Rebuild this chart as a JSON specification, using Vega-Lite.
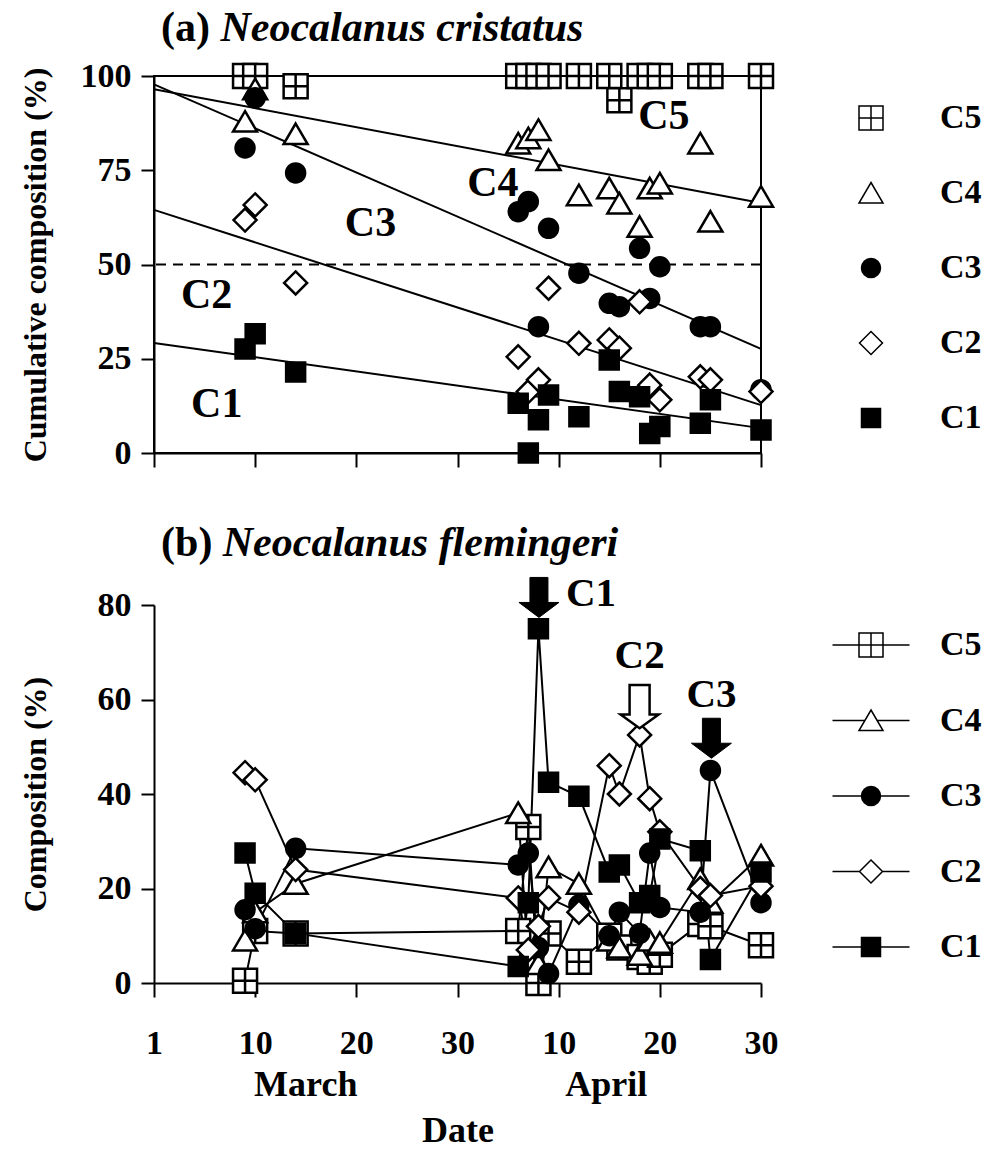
{
"$schema": "https://vega.github.io/schema/vega-lite/v6.json",
"padding": {"left": 18, "top": 6, "right": 0, "bottom": 0},
"background": "white",
"bounds": "flush",
"spacing": 152,
"resolve": {"scale": {"shape": "independent", "fill": "independent"}, "legend": {"shape": "independent", "fill": "independent"}},
"datasets": {
"a": [
{"stage":"C5","day":9,"pct":100},{"stage":"C5","day":10,"pct":100},{"stage":"C5","day":14,"pct":97.3},{"stage":"C5","day":36,"pct":100},{"stage":"C5","day":37,"pct":100},{"stage":"C5","day":38,"pct":100},{"stage":"C5","day":39,"pct":100},{"stage":"C5","day":42,"pct":100},{"stage":"C5","day":45,"pct":100},{"stage":"C5","day":46,"pct":93.6},{"stage":"C5","day":48,"pct":100},{"stage":"C5","day":49,"pct":100},{"stage":"C5","day":50,"pct":100},{"stage":"C5","day":54,"pct":100},{"stage":"C5","day":55,"pct":100},{"stage":"C5","day":60,"pct":100},
{"stage":"C4","day":9,"pct":87.9},{"stage":"C4","day":10,"pct":96.5},{"stage":"C4","day":14,"pct":84.6},{"stage":"C4","day":36,"pct":82.1},{"stage":"C4","day":37,"pct":83.5},{"stage":"C4","day":38,"pct":85.7},{"stage":"C4","day":39,"pct":77.7},{"stage":"C4","day":42,"pct":68.4},{"stage":"C4","day":45,"pct":70.2},{"stage":"C4","day":46,"pct":66.2},{"stage":"C4","day":48,"pct":60.0},{"stage":"C4","day":49,"pct":70.2},{"stage":"C4","day":50,"pct":71.5},{"stage":"C4","day":54,"pct":82.1},{"stage":"C4","day":55,"pct":61.4},{"stage":"C4","day":60,"pct":68.0},
{"stage":"C3","day":9,"pct":80.9},{"stage":"C3","day":10,"pct":94.2},{"stage":"C3","day":14,"pct":74.3},{"stage":"C3","day":36,"pct":64.0},{"stage":"C3","day":37,"pct":66.7},{"stage":"C3","day":38,"pct":33.5},{"stage":"C3","day":39,"pct":59.6},{"stage":"C3","day":42,"pct":47.7},{"stage":"C3","day":45,"pct":39.7},{"stage":"C3","day":46,"pct":38.8},{"stage":"C3","day":48,"pct":54.3},{"stage":"C3","day":49,"pct":41.0},{"stage":"C3","day":50,"pct":49.4},{"stage":"C3","day":54,"pct":33.5},{"stage":"C3","day":55,"pct":33.5},{"stage":"C3","day":60,"pct":16.8},
{"stage":"C2","day":9,"pct":61.8},{"stage":"C2","day":10,"pct":65.8},{"stage":"C2","day":14,"pct":45.1},{"stage":"C2","day":36,"pct":25.5},{"stage":"C2","day":37,"pct":16.3},{"stage":"C2","day":38,"pct":19.4},{"stage":"C2","day":39,"pct":43.7},{"stage":"C2","day":42,"pct":29.1},{"stage":"C2","day":45,"pct":30.0},{"stage":"C2","day":46,"pct":27.8},{"stage":"C2","day":48,"pct":40.1},{"stage":"C2","day":49,"pct":18.0},{"stage":"C2","day":50,"pct":14.1},{"stage":"C2","day":54,"pct":20.2},{"stage":"C2","day":55,"pct":19.4},{"stage":"C2","day":60,"pct":16.3},
{"stage":"C1","day":9,"pct":27.6},{"stage":"C1","day":10,"pct":31.6},{"stage":"C1","day":14,"pct":21.5},{"stage":"C1","day":36,"pct":13.2},{"stage":"C1","day":37,"pct":0},{"stage":"C1","day":38,"pct":8.8},{"stage":"C1","day":39,"pct":15.4},{"stage":"C1","day":42,"pct":9.6},{"stage":"C1","day":45,"pct":24.7},{"stage":"C1","day":46,"pct":16.3},{"stage":"C1","day":48,"pct":14.9},{"stage":"C1","day":49,"pct":5.2},{"stage":"C1","day":50,"pct":7.0},{"stage":"C1","day":54,"pct":7.9},{"stage":"C1","day":55,"pct":14.1},{"stage":"C1","day":60,"pct":6.1}
],
"b": [
{"stage":"C5","day":9,"pct":0.5},{"stage":"C5","day":10,"pct":11},{"stage":"C5","day":14,"pct":10.5},{"stage":"C5","day":36,"pct":11},{"stage":"C5","day":37,"pct":33},{"stage":"C5","day":38,"pct":0},{"stage":"C5","day":39,"pct":10.5},{"stage":"C5","day":42,"pct":4.5},{"stage":"C5","day":45,"pct":10},{"stage":"C5","day":46,"pct":7.5},{"stage":"C5","day":48,"pct":5.5},{"stage":"C5","day":49,"pct":4.5},{"stage":"C5","day":50,"pct":6},{"stage":"C5","day":54,"pct":12.5},{"stage":"C5","day":55,"pct":12},{"stage":"C5","day":60,"pct":8},
{"stage":"C4","day":9,"pct":9},{"stage":"C4","day":10,"pct":15},{"stage":"C4","day":14,"pct":21},{"stage":"C4","day":36,"pct":36},{"stage":"C4","day":37,"pct":5},{"stage":"C4","day":38,"pct":4},{"stage":"C4","day":39,"pct":24.5},{"stage":"C4","day":42,"pct":21},{"stage":"C4","day":45,"pct":9},{"stage":"C4","day":46,"pct":7.5},{"stage":"C4","day":48,"pct":6},{"stage":"C4","day":49,"pct":9},{"stage":"C4","day":50,"pct":8.5},{"stage":"C4","day":54,"pct":22},{"stage":"C4","day":55,"pct":17},{"stage":"C4","day":60,"pct":27},
{"stage":"C3","day":9,"pct":15.5},{"stage":"C3","day":10,"pct":11.5},{"stage":"C3","day":14,"pct":28.5},{"stage":"C3","day":36,"pct":25},{"stage":"C3","day":37,"pct":27.5},{"stage":"C3","day":38,"pct":7.5},{"stage":"C3","day":39,"pct":2},{"stage":"C3","day":42,"pct":16.5},{"stage":"C3","day":45,"pct":10},{"stage":"C3","day":46,"pct":15},{"stage":"C3","day":48,"pct":10.5},{"stage":"C3","day":49,"pct":27.5},{"stage":"C3","day":50,"pct":16},{"stage":"C3","day":54,"pct":15},{"stage":"C3","day":55,"pct":45},{"stage":"C3","day":60,"pct":17},
{"stage":"C2","day":9,"pct":44.5},{"stage":"C2","day":10,"pct":43},{"stage":"C2","day":14,"pct":24},{"stage":"C2","day":36,"pct":18},{"stage":"C2","day":37,"pct":7},{"stage":"C2","day":38,"pct":12},{"stage":"C2","day":39,"pct":18},{"stage":"C2","day":42,"pct":15},{"stage":"C2","day":45,"pct":46},{"stage":"C2","day":46,"pct":40},{"stage":"C2","day":48,"pct":52.5},{"stage":"C2","day":49,"pct":39},{"stage":"C2","day":50,"pct":32},{"stage":"C2","day":54,"pct":20},{"stage":"C2","day":55,"pct":18.5},{"stage":"C2","day":60,"pct":20.5},
{"stage":"C1","day":9,"pct":27.5},{"stage":"C1","day":10,"pct":19},{"stage":"C1","day":14,"pct":10.5},{"stage":"C1","day":36,"pct":3.5},{"stage":"C1","day":37,"pct":17},{"stage":"C1","day":38,"pct":75},{"stage":"C1","day":39,"pct":42.5},{"stage":"C1","day":42,"pct":39.5},{"stage":"C1","day":45,"pct":23.5},{"stage":"C1","day":46,"pct":25},{"stage":"C1","day":48,"pct":17},{"stage":"C1","day":49,"pct":18.5},{"stage":"C1","day":50,"pct":30.5},{"stage":"C1","day":54,"pct":28},{"stage":"C1","day":55,"pct":5},{"stage":"C1","day":60,"pct":23.5}
],
"fitA": [
{"stage":"C4","day":0,"pct":96.5},{"stage":"C4","day":60,"pct":66.3},
{"stage":"C3","day":0,"pct":97.8},{"stage":"C3","day":60,"pct":27.6},
{"stage":"C2","day":0,"pct":64.5},{"stage":"C2","day":60,"pct":12.7},
{"stage":"C1","day":0,"pct":29.2},{"stage":"C1","day":60,"pct":6.6}
],
"labA": [{"label":"C5","day":50.4,"pct":89.5},{"label":"C4","day":33.5,"pct":71.5},{"label":"C3","day":21.4,"pct":61},{"label":"C2","day":5.2,"pct":41.8},{"label":"C1","day":6.2,"pct":13}],
"labB": [{"label":"C1","day":43.2,"pct":82.3},{"label":"C2","day":48,"pct":69.2},{"label":"C3","day":55.1,"pct":61}],
"arrowFilled": [{"stage":"C1","day":38.05,"pct":81.6},{"stage":"C3","day":55.1,"pct":51.8}],
"arrowOpen": [{"stage":"C2","day":48,"pct":58.5}],
"none": []
},
"vconcat": [
{
"width": 607, "height": 377,
"view": {"stroke": "black", "strokeWidth": 2},
"layer": [
{"data": {"name": "fitA"}, "mark": {"type": "line", "color": "black", "strokeWidth": 2},
 "encoding": {
  "x": {"field": "day", "type": "quantitative", "scale": {"domain": [0, 60], "nice": false, "zero": false}, "axis": {"values": [0,10,20,30,40,50,60], "labels": false, "title": null, "tickSize": 14}},
  "y": {"field": "pct", "type": "quantitative", "scale": {"domain": [0, 100], "nice": false}, "axis": {"values": [0,25,50,75,100], "title": "Cumulative composition (%)", "titlePadding": 28}},
  "detail": {"field": "stage", "type": "nominal"}}},
{"data": {"values": [{"pct": 50}]}, "mark": {"type": "rule", "color": "black", "strokeWidth": 2, "strokeDash": [10, 7]},
 "encoding": {"y": {"field": "pct", "type": "quantitative"}}},
{"data": {"name": "a"}, "mark": {"type": "point", "filled": true, "stroke": "black", "strokeWidth": 2.5, "opacity": 1, "size": 400},
 "encoding": {
  "x": {"field": "day", "type": "quantitative"},
  "y": {"field": "pct", "type": "quantitative"},
  "shape": {"field": "stage", "type": "nominal", "scale": {"domain": ["C5","C4","C3","C2","C1"], "range": ["M-1.2,-1.2L1.2,-1.2L1.2,1.2L-1.2,1.2ZM0,-1.2L0,1.2M-1.2,0L1.2,0", "M0,-1.05L1.2,1L-1.2,1Z", "M0.95,0A0.95,0.95,0,1,1,-0.95,0A0.95,0.95,0,1,1,0.95,0Z", "M0,-1.15L1.15,0L0,1.15L-1.15,0Z", "M-0.95,-0.95L0.95,-0.95L0.95,0.95L-0.95,0.95Z"]},
   "legend": {"title": null, "orient": "none", "legendX": 700, "legendY": 25, "padding": 0, "rowPadding": 41, "symbolSize": 400, "labelFont": "Liberation Serif", "labelFontSize": 34, "labelFontWeight": "bold", "labelColor": "black", "labelOffset": 52, "labelLimit": 300,
    "encode": {"symbols": {"update": {"fill": {"signal": "datum.value === 'C3' || datum.value === 'C1' ? 'black' : 'white'"}, "stroke": {"value": "black"}, "strokeWidth": {"value": 2.5}, "opacity": {"value": 1}}}}}},
  "fill": {"field": "stage", "type": "nominal", "scale": {"domain": ["C5","C4","C3","C2","C1"], "range": ["white","white","black","white","black"]}, "legend": null}}},
{"data": {"name": "labA"}, "mark": {"type": "text", "fontSize": 42, "fontWeight": "bold", "font": "Liberation Serif", "color": "black", "align": "center", "baseline": "middle"},
 "encoding": {"x": {"field": "day", "type": "quantitative"}, "y": {"field": "pct", "type": "quantitative"}, "text": {"field": "label"}}},
{"data": {"values": [{"t": "(a)", "day": 0.7, "pct": 112.7}]}, "mark": {"type": "text", "fontSize": 42, "fontWeight": "bold", "font": "Liberation Serif", "color": "black", "align": "left", "baseline": "middle"},
 "encoding": {"x": {"field": "day", "type": "quantitative"}, "y": {"field": "pct", "type": "quantitative"}, "text": {"field": "t"}}},
{"data": {"values": [{"t": "Neocalanus cristatus", "day": 6.57, "pct": 112.7}]}, "mark": {"type": "text", "fontSize": 42, "fontWeight": "bold", "fontStyle": "italic", "font": "Liberation Serif", "color": "black", "align": "left", "baseline": "middle"},
 "encoding": {"x": {"field": "day", "type": "quantitative"}, "y": {"field": "pct", "type": "quantitative"}, "text": {"field": "t"}}}
]
},
{
"width": 607, "height": 378,
"view": {"stroke": null},
"resolve": {"scale": {"shape": "independent", "fill": "independent"}, "legend": {"shape": "independent", "fill": "independent"}},
"layer": [
{"data": {"name": "b"}, "mark": {"type": "line", "color": "black", "strokeWidth": 2},
 "encoding": {
  "x": {"field": "day", "type": "quantitative", "scale": {"domain": [0, 60], "nice": false, "zero": false}, "axis": {"values": [0,10,20,30,40,50,60], "labelExpr": "datum.value == 0 ? '1' : datum.value > 30 ? format(datum.value - 30, 'd') : datum.label", "title": "Date", "tickSize": 14, "labelPadding": 29, "titlePadding": 53}},
  "y": {"field": "pct", "type": "quantitative", "scale": {"domain": [0, 80], "nice": false}, "axis": {"values": [0,20,40,60,80], "title": "Composition (%)", "titlePadding": 45}},
  "detail": {"field": "stage", "type": "nominal"},
  "order": {"field": "day", "type": "quantitative"}}},
{"data": {"name": "b"}, "mark": {"type": "point", "filled": true, "stroke": "black", "strokeWidth": 2.5, "opacity": 1, "size": 400},
 "encoding": {
  "x": {"field": "day", "type": "quantitative"},
  "y": {"field": "pct", "type": "quantitative"},
  "shape": {"field": "stage", "type": "nominal", "scale": {"domain": ["C5","C4","C3","C2","C1"], "range": ["M-1.2,-1.2L1.2,-1.2L1.2,1.2L-1.2,1.2ZM0,-1.2L0,1.2M-1.2,0L1.2,0", "M0,-1.05L1.2,1L-1.2,1Z", "M0.95,0A0.95,0.95,0,1,1,-0.95,0A0.95,0.95,0,1,1,0.95,0Z", "M0,-1.15L1.15,0L0,1.15L-1.15,0Z", "M-0.95,-0.95L0.95,-0.95L0.95,0.95L-0.95,0.95Z"]}, "legend": null},
  "fill": {"field": "stage", "type": "nominal", "scale": {"domain": ["C5","C4","C3","C2","C1"], "range": ["white","white","black","white","black"]}, "legend": null}}},
{"data": {"name": "none"}, "mark": {"type": "point", "filled": true, "stroke": "black", "strokeWidth": 2.5, "opacity": 1, "size": 400},
 "encoding": {
  "x": {"field": "day", "type": "quantitative"},
  "y": {"field": "pct", "type": "quantitative"},
  "shape": {"field": "stage", "type": "nominal", "scale": {"domain": ["C5","C4","C3","C2","C1"], "range": ["M-3.85,0L-1.2,0M1.2,0L3.85,0M-1.2,-1.2L1.2,-1.2L1.2,1.2L-1.2,1.2ZM0,-1.2L0,1.2M-1.2,0L1.2,0", "M-3.85,0L-0.62,0M0.62,0L3.85,0M0,-1.05L1.2,1L-1.2,1Z", "M-3.85,0L3.85,0M0.95,0A0.95,0.95,0,1,1,-0.95,0A0.95,0.95,0,1,1,0.95,0Z", "M-3.85,0L-1.15,0M1.15,0L3.85,0M0,-1.15L1.15,0L0,1.15L-1.15,0Z", "M-3.85,0L3.85,0M-0.95,-0.95L0.95,-0.95L0.95,0.95L-0.95,0.95Z"]},
   "legend": {"title": null, "orient": "none", "legendX": 700, "legendY": 23, "padding": 0, "rowPadding": 41.5, "symbolSize": 400, "labelFont": "Liberation Serif", "labelFontSize": 34, "labelFontWeight": "bold", "labelColor": "black", "labelOffset": 52, "labelLimit": 300,
    "encode": {"symbols": {"update": {"fill": {"signal": "datum.value === 'C3' || datum.value === 'C1' ? 'black' : 'white'"}, "stroke": {"value": "black"}, "strokeWidth": {"value": 2.5}, "opacity": {"value": 1}}}}}},
  "fill": {"field": "stage", "type": "nominal", "scale": {"domain": ["C5","C4","C3","C2","C1"], "range": ["white","white","black","white","black"]}, "legend": null}}},
{"data": {"name": "arrowFilled"}, "mark": {"type": "point", "shape": "M-0.45,-1L0.45,-1L0.45,0.25L1,0.25L0,1L-1,0.25L-0.45,0.25Z", "size": 1600, "filled": true, "fill": "black", "stroke": "black", "strokeWidth": 1, "opacity": 1},
 "encoding": {"x": {"field": "day", "type": "quantitative"}, "y": {"field": "pct", "type": "quantitative"}}},
{"data": {"name": "arrowOpen"}, "mark": {"type": "point", "shape": "M-0.5,-1.08L0.5,-1.08L0.5,0.4L0.95,0.4L0,1.08L-0.95,0.4L-0.5,0.4Z", "size": 1600, "filled": true, "fill": "white", "stroke": "black", "strokeWidth": 2.5, "opacity": 1},
 "encoding": {"x": {"field": "day", "type": "quantitative"}, "y": {"field": "pct", "type": "quantitative"}}},
{"data": {"name": "labB"}, "mark": {"type": "text", "fontSize": 41, "fontWeight": "bold", "font": "Liberation Serif", "color": "black", "align": "center", "baseline": "middle"},
 "encoding": {"x": {"field": "day", "type": "quantitative"}, "y": {"field": "pct", "type": "quantitative"}, "text": {"field": "label"}}},
{"data": {"values": [{"t": "(b)", "day": 0.7, "pct": 93.1}]}, "mark": {"type": "text", "fontSize": 42, "fontWeight": "bold", "font": "Liberation Serif", "color": "black", "align": "left", "baseline": "middle"},
 "encoding": {"x": {"field": "day", "type": "quantitative"}, "y": {"field": "pct", "type": "quantitative"}, "text": {"field": "t"}}},
{"data": {"values": [{"t": "Neocalanus flemingeri", "day": 6.8, "pct": 93.1}]}, "mark": {"type": "text", "fontSize": 42, "fontWeight": "bold", "fontStyle": "italic", "font": "Liberation Serif", "color": "black", "align": "left", "baseline": "middle"},
 "encoding": {"x": {"field": "day", "type": "quantitative"}, "y": {"field": "pct", "type": "quantitative"}, "text": {"field": "t"}}},
{"data": {"values": [{"t": "March", "day": 15, "pct": -21.6}, {"t": "April", "day": 44.7, "pct": -21.6}]}, "mark": {"type": "text", "fontSize": 36, "fontWeight": "bold", "font": "Liberation Serif", "color": "black", "align": "center", "baseline": "middle"},
 "encoding": {"x": {"field": "day", "type": "quantitative"}, "y": {"field": "pct", "type": "quantitative"}, "text": {"field": "t"}}}
]
}
],
"config": {
 "font": "Liberation Serif",
 "axis": {"domainColor": "black", "domainWidth": 2, "tickColor": "black", "tickWidth": 2, "tickSize": 13, "grid": false, "labelFont": "Liberation Serif", "labelFontSize": 34, "labelFontWeight": "bold", "labelColor": "black", "labelPadding": 10, "labelFlush": false, "labelOverlap": false, "titleFont": "Liberation Serif", "titleFontSize": 32, "titleFontWeight": "bold", "titleColor": "black"},
 "axisX": {"titleFontSize": 36}
}
}
